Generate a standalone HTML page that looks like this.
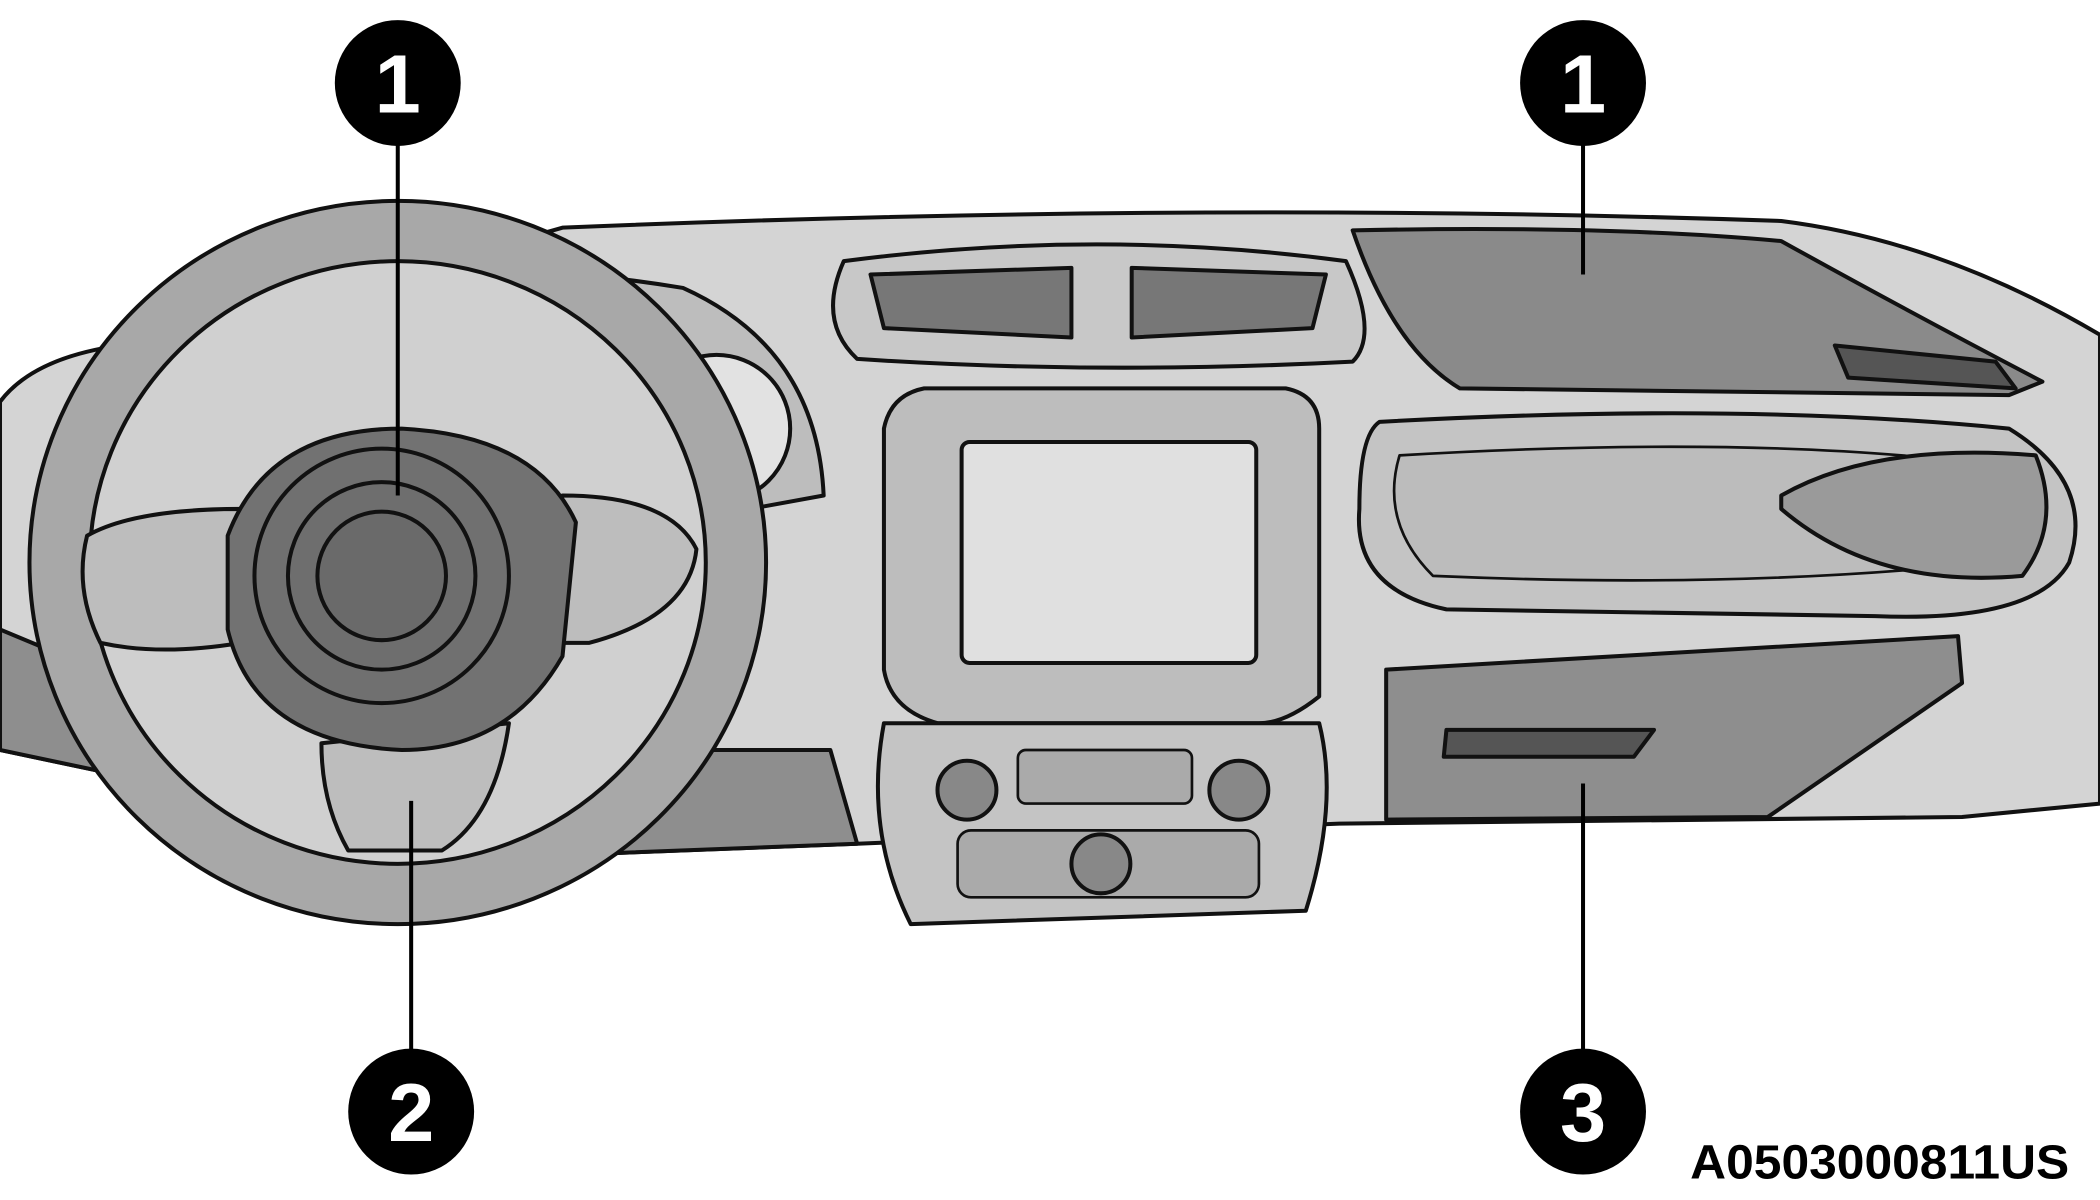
<!DOCTYPE html>
<html><head><meta charset="utf-8"><style>
html,body{margin:0;padding:0;background:#fff;}
svg{display:block;}
</style></head><body>
<svg width="2100" height="1200" viewBox="0 0 1568 896" preserveAspectRatio="none" xmlns="http://www.w3.org/2000/svg">
<rect width="1568" height="896" fill="#fff"/>
<g stroke="#111" stroke-width="3" stroke-linejoin="round">
<path d="M0 300 Q30 260 120 255 L420 170 Q900 150 1330 165 Q1450 180 1568 250 L1568 600 L1465 610 L1000 615 L640 630 L380 640 L0 560 Z" fill="#d4d4d4"/>
<path d="M0 470 L120 520 L300 560 L620 560 L640 630 L380 640 L0 560 Z" fill="#8e8e8e"/>
<path d="M1010 172 Q1200 168 1330 180 Q1420 230 1525 285 L1500 295 L1090 290 Q1040 260 1010 172 Z" fill="#8a8a8a"/>
<path d="M1370 258 L1490 270 L1505 290 L1380 282 Z" fill="#555"/>
<path d="M1030 315 Q1300 300 1500 320 Q1565 360 1545 420 Q1520 465 1400 460 L1080 455 Q1010 440 1015 380 Q1015 325 1030 315 Z" fill="#c4c4c4"/>
<path d="M1045 340 Q1300 325 1470 345 L1485 420 Q1300 440 1070 430 Q1030 390 1045 340 Z" fill="#bcbcbc" stroke-width="2"/>
<path d="M1330 370 Q1400 330 1520 340 Q1540 390 1510 430 Q1400 440 1330 380 Z" fill="#9a9a9a"/>
<path d="M1035 500 L1462 475 L1465 510 L1320 610 L1035 612 Z" fill="#8e8e8e"/>
<path d="M1080 545 L1235 545 L1220 565 L1078 565 Z" fill="#555"/>
<path d="M630 195 Q820 170 1005 195 Q1030 250 1010 270 Q820 280 640 268 Q610 240 630 195 Z" fill="#c8c8c8"/>
<path d="M650 205 L800 200 L800 252 L660 245 Z" fill="#777"/>
<path d="M845 200 L990 205 L980 245 L845 252 Z" fill="#777"/>
<path d="M690 290 L960 290 Q985 295 985 320 L985 520 Q960 540 940 540 L700 540 Q665 530 660 500 L660 320 Q665 295 690 290 Z" fill="#bdbdbd"/>
<rect x="718" y="330" width="220" height="165" rx="6" fill="#e0e0e0"/>
<path d="M660 540 L985 540 Q1000 600 975 680 L680 690 Q645 620 660 540 Z" fill="#c4c4c4"/>
<rect x="760" y="560" width="130" height="40" rx="6" fill="#aaa" stroke-width="2"/>
<rect x="715" y="620" width="225" height="50" rx="10" fill="#aaa" stroke-width="2"/>
<circle cx="722" cy="590" r="22" fill="#888"/>
<circle cx="925" cy="590" r="22" fill="#888"/>
<circle cx="822" cy="645" r="22" fill="#888"/>
<path d="M140 240 Q300 180 510 215 Q610 260 615 370 L560 380 L480 380 Q300 300 130 350 Z" fill="#bdbdbd"/>
<circle cx="310" cy="320" r="55" fill="#e2e2e2"/>
<circle cx="535" cy="320" r="55" fill="#e2e2e2"/>
<ellipse cx="297" cy="420" rx="275" ry="270" fill="#a8a8a8"/>
<ellipse cx="297" cy="420" rx="230" ry="225" fill="#d0d0d0"/>
<path d="M65 400 Q100 380 180 380 L180 480 Q120 490 75 480 Q55 440 65 400 Z" fill="#bdbdbd"/>
<path d="M420 370 Q500 370 520 410 Q515 460 440 480 L400 480 Z" fill="#bdbdbd"/>
<path d="M240 555 L380 540 Q370 610 330 635 L260 635 Q240 600 240 555 Z" fill="#bdbdbd"/>
<path d="M170 400 Q200 320 300 320 Q400 325 430 390 L420 490 Q380 560 300 560 Q190 555 170 470 Z" fill="#727272"/>
<circle cx="285" cy="430" r="95" fill="#707070"/>
<circle cx="285" cy="430" r="70" fill="#6e6e6e"/>
<circle cx="285" cy="430" r="48" fill="#6a6a6a"/>
</g>
<g stroke="#000" stroke-width="3">
<line x1="297" y1="100" x2="297" y2="370"/>
<line x1="1182" y1="100" x2="1182" y2="205"/>
<line x1="307" y1="790" x2="307" y2="598"/>
<line x1="1182" y1="790" x2="1182" y2="585"/>
</g>
<g fill="#000">
<circle cx="297" cy="62" r="47"/><circle cx="1182" cy="62" r="47"/>
<circle cx="307" cy="830" r="47"/><circle cx="1182" cy="830" r="47"/>
</g>
<g fill="#fff" font-family="Liberation Sans, sans-serif" font-weight="bold" font-size="62" text-anchor="middle">
<text x="297" y="84">1</text><text x="1182" y="84">1</text>
<text x="307" y="852">2</text><text x="1182" y="852">3</text>
</g>
<text x="1262" y="880" textLength="283" lengthAdjust="spacingAndGlyphs" font-family="Liberation Sans, sans-serif" font-weight="bold" font-size="36" fill="#000">A0503000811US</text>
</svg>
</body></html>
